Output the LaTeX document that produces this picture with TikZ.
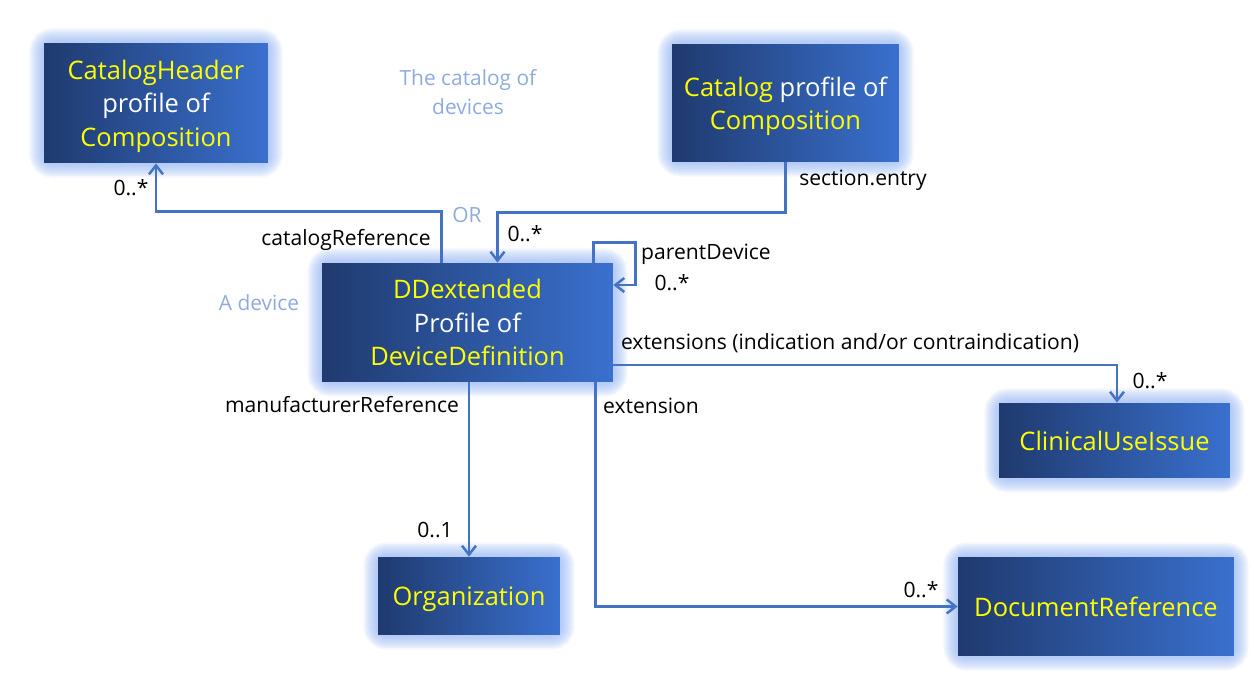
\documentclass[tikz,border=0pt]{standalone}
\usepackage{fontspec}
\setmainfont{Open Sans}
\usetikzlibrary{arrows.meta, positioning, calc}
\pgfdeclarelayer{glow}
\pgfsetlayers{glow,main}
\definecolor{navy}{HTML}{1F3A6E}
\definecolor{boxblue}{HTML}{3A70CE}
\definecolor{linkblue}{HTML}{4472C4}
\definecolor{glowblue}{HTML}{8EB0F2}
\definecolor{notegray}{HTML}{8FAADC}
\definecolor{hilite}{HTML}{FFFF00}
\newcommand{\hl}[1]{\textcolor{hilite}{#1}}
\newcommand{\glowbox}[1]{%
    \foreach \w in {1,...,9}
        \draw[glowblue, line width=1.8*\w pt, opacity=0.11, rounded corners=5pt] (#1.south west) rectangle (#1.north east);}
\tikzset{
    >={Straight Barb[length=1.8mm, width=2.8mm]},
    profile/.style={left color=navy, right color=boxblue, text=white, align=center,
        font=\fontsize{14.5}{19}\selectfont, inner sep=0pt, text depth=0pt},
    link/.style={linkblue, line width=1.4pt, ->},
    role/.style={font=\fontsize{12}{14}\selectfont, inner sep=1pt},
    note/.style={role, notegray, align=center, font=\fontsize{11.9}{16.4}\selectfont},
}
\begin{document}
\begin{tikzpicture}[x=0.02cm, y=-0.02cm]
    \useasboundingbox (0,0) rectangle (1254,675);
    % classes
    \node[profile, minimum width=4.48cm, minimum height=2.4cm] (hdr) at (156,103) {\hl{CatalogHeader}\\profile of\\\hl{Composition}};
    \node[profile, minimum width=4.54cm, minimum height=2.36cm] (cat) at (785.5,103) {\hl{Catalog} profile of\\\hl{Composition}};
    \node[profile, minimum width=5.82cm, minimum height=2.38cm] (dd) at (467.5,322.5) {\hl{DDextended}\\Profile of\\\hl{DeviceDefinition}};
    \node[profile, minimum width=4.62cm, minimum height=1.5cm] (cui) at (1114.5,440.5) {\hl{ClinicalUseIssue}};
    \node[profile, minimum width=3.64cm, minimum height=1.56cm] (org) at (469,596) {\hl{Organization}};
    \node[profile, minimum width=5.52cm, minimum height=1.98cm] (docref) at (1096,606.5) {\hl{DocumentReference}};
    \begin{pgfonlayer}{glow}
        \foreach \n in {hdr,cat,dd,cui,org,docref} {\glowbox{\n}}
    \end{pgfonlayer}
    % notes
    \node[note] (catnote) at (468,92) {The catalog of\\devices};
    \node[note] (ornote) at (467,215) {OR};
    \node[note] (devnote) at (259,303) {A device};
    % references
    \draw[link] ([xshift=-0.52cm]dd.north) -- ++(0,-51) -| (hdr.south);
    \draw[link] (cat.south) -- ++(0,50) -| ([xshift=0.6cm]dd.north);
    \draw[link] ([xshift=2.52cm]dd.north) -- ++(0,-20) -- ++(42,0) |- ([yshift=0.75cm]dd.east);
    \draw[link] ([yshift=-0.85cm]dd.east) -| ([xshift=0.05cm]cui.north);
    \draw[link] ([xshift=2.56cm]dd.south) |- (docref.west);
    \draw[link] (dd.south -| org.north) -- (org.north);
    % roles and cardinalities
    \node[role] (hdrcard) at (131,188) {0..*};
    \node[role] (hdrrole) at (346,240) {catalogReference};
    \node[role] (catrole) at (863,180) {section.entry};
    \node[role] (catcard) at (525,234) {0..*};
    \node[role] (parrole) at (706,254) {parentDevice};
    \node[role] (parcard) at (672,283) {0..*};
    \node[role] (cuirole) at (850,343) {extensions (indication and/or contraindication)};
    \node[role] (cuicard) at (1150,381) {0..*};
    \node[role] (docrole) at (651,406) {extension};
    \node[role] (doccard) at (921,590) {0..*};
    \node[role] (orgrole) at (342,405) {manufacturerReference};
    \node[role] (orgcard) at (435,530) {0..1};
\end{tikzpicture}
\end{document}
